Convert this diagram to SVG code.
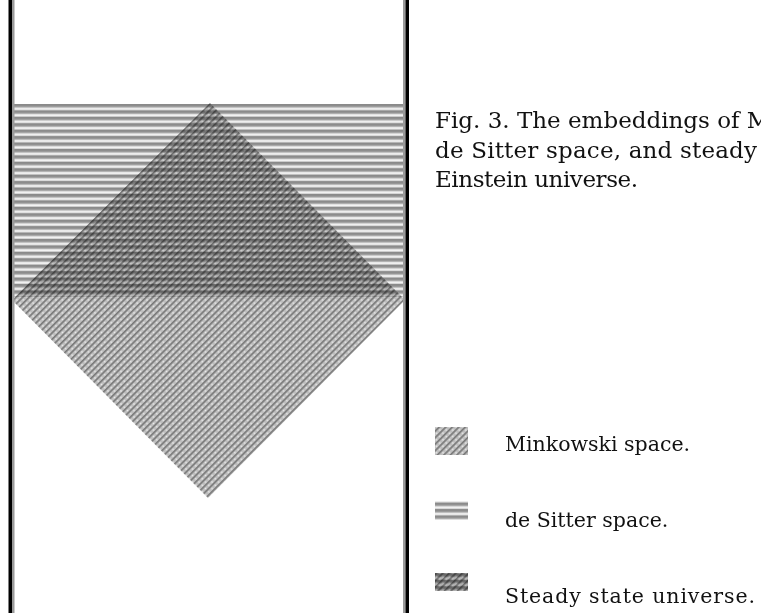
<svg xmlns="http://www.w3.org/2000/svg" width="761" height="613" viewBox="0 0 761 613">
  <style>
    .cap { font-family: "DejaVu Serif", "Liberation Serif", serif; font-size: 23px; fill: #111; }
    .leg { font-family: "DejaVu Serif", "Liberation Serif", serif; font-size: 20.5px; fill: #111; }
    .mink { mix-blend-mode: multiply; }
  </style>
  <defs>
    <pattern id="stripes" x="0" y="104" width="6" height="6.43" patternUnits="userSpaceOnUse">
      <rect width="6" height="6.43" fill="#ffffff"/>
      <rect y="0" width="6" height="1.3" fill="#8a8a8a"/>
      <rect y="1.3" width="6" height="1.2" fill="#5e5e5e"/>
      <rect y="2.5" width="6" height="1.3" fill="#b4b4b4"/>
      <rect y="3.8" width="6" height="1.2" fill="#e6e6e6"/>
      <rect y="5.6" width="6" height="0.83" fill="#cfcfcf"/>
    </pattern>
    <pattern id="hatch" width="4.6" height="4.6" patternUnits="userSpaceOnUse" patternTransform="rotate(-45)">
      <rect width="4.6" height="4.6" fill="#bdbdbd"/>
      <rect y="0" width="4.6" height="1.6" fill="#787878"/>
      <circle cx="2.3" cy="3.3" r="0.9" fill="#ebebeb"/>
    </pattern>
  </defs>

  <g id="de-sitter-region">
    <rect x="12" y="104" width="393" height="193" fill="url(#stripes)"/>
  </g>
  <g id="minkowski-region">
    <polygon class="mink" points="210,103 405,300 208,498 12,300" fill="url(#hatch)"/>
  </g>
  <g id="boundaries">
    <rect x="8.5" y="0" width="3.5" height="613" fill="#000"/>
    <rect x="12" y="0" width="2.5" height="613" fill="#9a9a9a"/>
    <rect x="403" y="0" width="2.5" height="613" fill="#9a9a9a"/>
    <rect x="405.5" y="0" width="3.5" height="613" fill="#000"/>
  </g>

  <g id="caption">
    <text class="cap" x="435" y="128">Fig. 3.  The embeddings of M</text>
    <text class="cap" x="435" y="158" textLength="322" lengthAdjust="spacing">de Sitter space, and steady</text>
    <text class="cap" x="435" y="187" textLength="203" lengthAdjust="spacing">Einstein universe.</text>
  </g>

  <g id="legend-minkowski">
    <rect x="435" y="427" width="33" height="28" fill="url(#hatch)"/>
    <text class="leg" x="505" y="451">Minkowski space.</text>
  </g>
  <g id="legend-de-sitter">
    <rect x="435" y="501" width="33" height="19" fill="url(#stripes)"/>
    <text class="leg" x="505" y="527">de Sitter space.</text>
  </g>
  <g id="legend-steady">
    <rect x="435" y="573" width="33" height="18" fill="url(#stripes)"/>
    <rect class="mink" x="435" y="573" width="33" height="18" fill="url(#hatch)"/>
    <text class="leg" x="505" y="603" textLength="250" lengthAdjust="spacing">Steady state universe.</text>
  </g>
</svg>
